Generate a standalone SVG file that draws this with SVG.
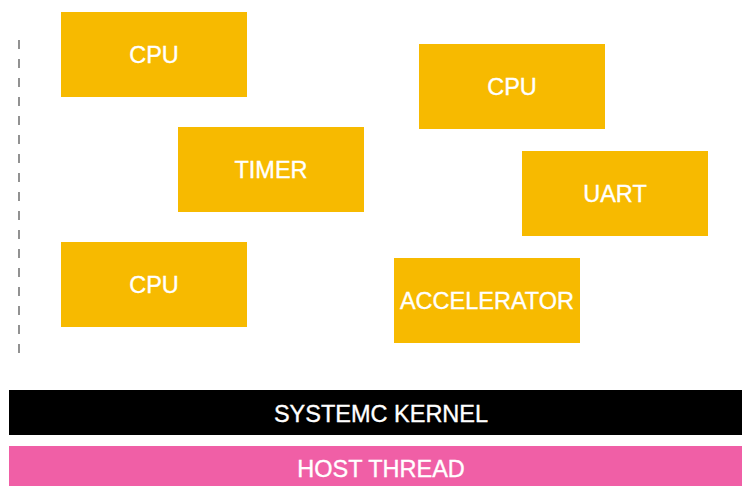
<svg xmlns="http://www.w3.org/2000/svg" width="742" height="486" viewBox="0 0 742 486">
<style>
.box{fill:#F7BA00}
.lbl{font-family:"Liberation Sans",Arial,sans-serif;font-size:23.5px;fill:#fff;stroke:#fff;stroke-width:0.35;text-anchor:middle}
</style>
<rect width="742" height="486" fill="#fff"/>
<g id="connectors">
<line x1="19" y1="40" x2="19" y2="355" stroke="#777" stroke-width="1.6" stroke-dasharray="9 10"/>
</g>
<g id="cpu1"><rect class="box" x="61" y="12" width="186" height="85"/><text class="lbl" x="154" y="63">CPU</text></g>
<g id="timer"><rect class="box" x="178" y="127" width="186" height="85"/><text class="lbl" x="271" y="178">TIMER</text></g>
<g id="cpu3"><rect class="box" x="61" y="242" width="186" height="85"/><text class="lbl" x="154" y="293">CPU</text></g>
<g id="cpu2"><rect class="box" x="419" y="44" width="186" height="85"/><text class="lbl" x="512" y="95">CPU</text></g>
<g id="uart"><rect class="box" x="522" y="151" width="186" height="85"/><text class="lbl" x="615" y="202">UART</text></g>
<g id="accelerator"><rect class="box" x="394" y="258" width="186" height="85"/><text class="lbl" x="487" y="309">ACCELERATOR</text></g>
<g id="kernel"><rect x="9" y="390" width="733" height="45" fill="#000"/><text class="lbl" x="381" y="421.5">SYSTEMC KERNEL</text></g>
<g id="host"><rect x="9" y="446" width="733" height="40" fill="#F05FA6"/><text class="lbl" x="381" y="476.5">HOST THREAD</text></g>
</svg>
